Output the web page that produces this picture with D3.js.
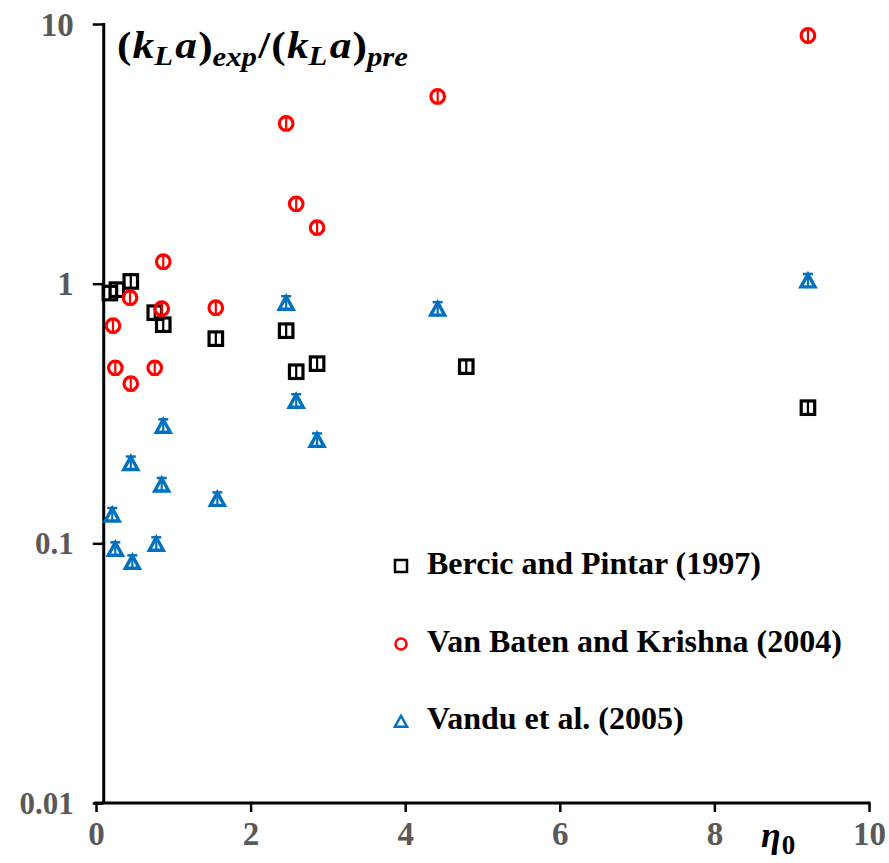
<!DOCTYPE html>
<html><head><meta charset="utf-8">
<script src="https://cdn.jsdelivr.net/npm/d3@7"></script>
<style>body{margin:0;background:#fff}svg{display:block}
.sf{font-family:"Liberation Serif","DejaVu Serif",serif;}</style>
</head><body>
<script>
// ---- data ----
const xTicks = [0, 2, 4, 6, 8, 10];
const yTicks = [0.01, 0.1, 1, 10];
const yTickLabels = ["0.01", "0.1", "1", "10"];

const bercicX = [0.18, 0.27, 0.45, 0.76, 0.87, 1.55, 2.46, 2.59, 2.86, 4.79, 9.21];
const bercicY = [0.92, 0.948, 1.02, 0.773, 0.695, 0.614, 0.659, 0.458, 0.492, 0.479, 0.333];

const vanBatenX = [0.22, 0.25, 0.44, 0.45, 0.76, 0.85, 0.87, 1.55, 2.46, 2.59, 2.86, 4.42, 9.21];
const vanBatenY = [0.689, 0.474, 0.883, 0.412, 0.474, 0.801, 1.215, 0.808, 4.14, 2.03, 1.644, 5.26, 9.03];

const vanduX = [0.21, 0.25, 0.45, 0.47, 0.78, 0.85, 0.87, 1.57, 2.46, 2.59, 2.86, 4.42, 9.21];
const vanduY = [0.128, 0.0944, 0.202, 0.0841, 0.0987, 0.167, 0.281, 0.147, 0.837, 0.351, 0.248, 0.794, 1.02];

const seriesNames = ["Bercic and Pintar (1997)", "Van Baten and Krishna (2004)", "Vandu et al. (2005)"];

// ---- setup ----
const W = 889, H = 863;
const svg = d3.select("body").append("svg").attr("width", W).attr("height", H);

const x = d3.scaleLinear().domain([0, 10]).range([96, 869]);
const y = d3.scaleLog().domain([0.01, 10]).range([803, 24]);

const grey = "#595959";

// x axis
const xAxis = svg.append("g").attr("transform", `translate(0,${y(0.01)})`)
  .call(d3.axisBottom(x).tickValues(xTicks).tickSize(9).tickPadding(10).tickFormat(d3.format("d")));
xAxis.select(".domain").attr("stroke", "#000").attr("stroke-width", 3).attr("d", `M${x(0)-2},0H${x(10)+1.5}`);
xAxis.selectAll(".tick line").attr("stroke", "#000").attr("stroke-width", 2.5);
xAxis.selectAll(".tick text").attr("class", "sf").attr("fill", grey).attr("font-weight", "bold")
  .attr("font-size", 33).attr("dy", "0.71em");

// y axis at x=0.1
const yAxis = svg.append("g").attr("transform", `translate(${x(0.1)},0)`)
  .call(d3.axisLeft(y).tickValues(yTicks).tickSize(11).tickPadding(19)
    .tickFormat(d => yTickLabels[yTicks.indexOf(d)]));
yAxis.select(".domain").attr("stroke", "#000").attr("stroke-width", 3).attr("d", `M0,${y(10)-1}V${y(0.01)}`);
yAxis.selectAll(".tick line").attr("stroke", "#000").attr("stroke-width", 2.5);
yAxis.selectAll(".tick text").attr("class", "sf").attr("fill", grey).attr("font-weight", "bold")
  .attr("font-size", 33).attr("dy", "0.34em");
yAxis.selectAll(".tick").filter(d => d === 0.01 || d === 0.1).select("text").attr("font-size", 31);
svg.selectAll("g").attr("font-family", null);

// ---- markers ----
function errBar(g, cx, cy, color) {
  g.append("line").attr("x1", cx).attr("x2", cx).attr("y1", cy - 7).attr("y2", cy + 7)
    .attr("stroke", color).attr("stroke-width", 2.2);
}
function square(g, cx, cy, s, color, sw) {
  g.append("rect").attr("x", cx - s / 2).attr("y", cy - s / 2).attr("width", s).attr("height", s)
    .attr("fill", "none").attr("stroke", color).attr("stroke-width", sw);
}
function circle(g, cx, cy, r, color, sw) {
  g.append("circle").attr("cx", cx).attr("cy", cy).attr("r", r)
    .attr("fill", "none").attr("stroke", color).attr("stroke-width", sw);
}
function triangle(g, cx, cy, s, color, sw) {
  const h = s * 0.866;
  g.append("path").attr("d", `M${cx},${cy - h * 0.6}L${cx + s / 2},${cy + h * 0.45}L${cx - s / 2},${cy + h * 0.45}Z`)
    .attr("fill", "none").attr("stroke", color).attr("stroke-width", sw).attr("stroke-linejoin", "miter");
}

const black = "#000000", red = "#ff0000", blue = "#0070c0";
const pts = svg.append("g");

vanduX.forEach((v, i) => {
  const cx = x(v), cy = y(vanduY[i]);
  const g = pts.append("g");
  triangle(g, cx, cy, 14, blue, 3.4);
  g.append("line").attr("x1", cx - 5).attr("x2", cx + 5).attr("y1", cy - 7.5).attr("y2", cy - 7.5).attr("stroke", blue).attr("stroke-width", 2.5);
  errBar(g, cx, cy, blue);
});
bercicX.forEach((v, i) => {
  const cx = x(v), cy = y(bercicY[i]);
  const g = pts.append("g");
  square(g, cx, cy, 13.5, black, 3.2);
  errBar(g, cx, cy, black);
});
vanBatenX.forEach((v, i) => {
  const cx = x(v), cy = y(vanBatenY[i]);
  const g = pts.append("g");
  circle(g, cx, cy, 6.8, red, 3.2);
  g.append("line").attr("x1", cx - 4).attr("x2", cx + 4).attr("y1", cy + 6.7).attr("y2", cy + 6.7).attr("stroke", red).attr("stroke-width", 2.5);
  errBar(g, cx, cy, red);
});

// ---- legend ----
const legY = [566, 644, 721];
const leg = svg.append("g");
square(leg, 401, legY[0], 12, black, 2.5);
circle(leg, 401, legY[1], 5.5, red, 2.5);
triangle(leg, 401, legY[2] + 1, 12, blue, 2.5);
seriesNames.forEach((n, i) => {
  leg.append("text").attr("class", "sf").attr("x", 427).attr("y", legY[i] + 8).text(n)
    .attr("font-weight", "bold").attr("font-size", 32).attr("fill", "#000");
});

// ---- title ----
const t = svg.append("text").attr("class", "sf").attr("x", 0).attr("y", 0)
  .attr("font-weight", "bold").attr("font-size", 38).attr("fill", "#000");
function part(txt, italic, dy, small) {
  const ts = t.append("tspan").text(txt).attr("font-style", italic ? "italic" : "normal");
  if (small) ts.attr("font-size", 27);
  if (dy) ts.attr("dy", dy);
  return ts;
}
part("(", false); part("k", true).attr("dx", 1); part("L", true, 7, true); part("a", true, -7).attr("dx", 2); part(")", false).attr("dx", 1);
part("exp", true, 8, true); part("/", false, -8).attr("dx", 1); part("(", false).attr("dx", 1); part("k", true).attr("dx", 1); part("L", true, 7, true);
part("a", true, -7).attr("dx", 2); part(")", false).attr("dx", 1); part("pre", true, 8, true);
{
  const bb = t.node().getBBox();
  const sx = 291 / bb.width;
  t.attr("transform", `translate(${117 - bb.x * sx},58) scale(${sx},1)`);
}

// ---- x label ----
const xl = svg.append("text").attr("class", "sf").attr("x", 761).attr("y", 847)
  .attr("font-weight", "bold").attr("font-size", 36).attr("fill", "#000");
xl.append("tspan").text("η").attr("font-style", "italic");
xl.append("tspan").text("0").attr("font-size", 27).attr("dy", 7).attr("dx", 1);
</script>
</body></html>
